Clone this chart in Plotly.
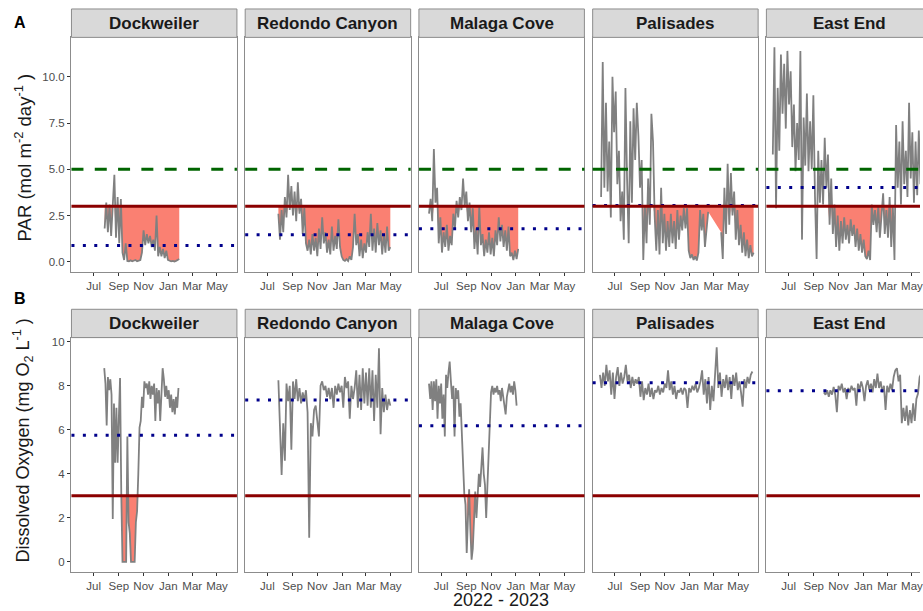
import plotly.graph_objects as go
import pandas as pd

# ---------------- data ----------------
sites = ["Dockweiler", "Redondo Canyon", "Malaga Cove", "Palisades", "East End"]
month_ticks = ["2022-07-01", "2022-09-01", "2022-11-01", "2023-01-01", "2023-03-01", "2023-05-01"]
month_labels = ["Jul", "Sep", "Nov", "Jan", "Mar", "May"]

# PAR (mol m-2 day-1), regular sampling from start date every N days
par_start = ["2022-07-28", "2022-07-28", "2022-06-01", "2022-05-28", "2022-05-23"]
par_step_days = [4, 4, 4, 4, 4]

par_dockweiler = [1.8, 3.2, 1.6, 3.1, 1.4, 2.9, 4.7, 1.3, 3.5, 1.0, 3.4, 0.5, 0.1, 1.0, 0.05,
                  0.03, 0.08, 0.03, 0.05, 0.1, 0.03, 0.05, 0.1, 0.5, 1.7, 0.9, 1.5, 1.0, 1.4, 0.8,
                  1.2, 0.6, 2.5, 0.3, 0.8, 0.3, 0.7, 0.2, 0.6, 0.1, 0.05, 0.03, 0.05, 0.02, 0.05,
                  0.08, 0.15]
par_redondo = [2.6, 1.2, 2.8, 1.6,
               3.5, 2.4, 4.7, 2.8, 4.1, 2.5, 3.8, 2.2, 4.3, 2.6, 3.4,
               1.5, 2.9, 1.0,
               0.6, 1.2, 0.4, 1.5, 0.6, 1.3, 0.3, 1.8, 0.7, 2.4, 1.0, 1.6, 0.5, 1.2, 0.4, 1.9,
               0.6, 1.4, 0.7, 2.3, 0.8,
               0.3, 0.1, 0.05, 0.15, 0.05, 0.3, 0.1, 0.8,
               2.6, 0.9, 1.5, 0.3, 1.2, 0.2, 1.0, 0.5, 1.6, 0.8, 2.6, 0.6, 1.8, 0.5, 2.1, 0.9,
               1.7, 0.4, 1.5, 0.5, 1.9, 0.6, 0.8]
par_malaga = [2.6, 3.4, 2.2, 6.1, 3.2, 4.0, 1.0, 2.4, 0.5, 1.6, 0.8, 2.0, 0.6, 1.4, 0.9, 2.6,
              1.8, 3.3, 2.4, 3.5, 2.8, 4.5, 3.0, 3.8, 2.2, 3.2, 1.6, 2.9, 0.7, 1.8, 0.4, 3.0,
              0.9, 1.5, 0.3, 1.2, 0.5, 1.6, 0.4, 1.3, 0.3, 1.7, 0.9, 2.4, 1.1, 2.0, 0.8, 1.7,
              0.6, 1.9, 0.3, 0.5, 0.1, 0.6, 0.15, 0.7]
par_palisades = [3.5, 10.8, 4.0, 8.6, 3.8, 6.5, 2.4, 10.0, 7.0, 9.2, 4.2, 6.0, 2.2, 3.8, 1.2,
                 9.4, 4.5, 1.0, 7.6, 3.2, 8.3, 5.5, 8.6, 6.8, 4.0, 5.5, 0.1, 3.0, 1.0, 4.5, 2.0,
                 8.0, 6.5, 2.5, 0.6, 2.8, 0.4, 4.0, 1.0, 2.6, 0.6, 2.2, 0.8, 2.6, 1.0, 2.2, 0.7,
                 2.8, 1.2, 2.5, 1.7, 2.9, 1.8, 2.9, 0.6, 0.2, 0.4, 0.1, 0.3, 0.07, 0.5, 2.8, 1.7,
                 2.6, 0.8, 1.6, 2.7, None, None, None, None, None, None, None, 1.6, 0.15, 4.0,
                 1.5, 5.3, 2.0, 4.8, 2.5, 3.8, 1.2, 2.8, 0.9, 2.0, 0.5, 1.6, 0.3, 1.2, 0.2, 0.9,
                 0.3, 0.5]
par_east_end = [5.8, 11.6, 2.9, 9.4, 6.0, 11.2, 8.0, 10.7, 7.2, 11.4, 8.5, 10.3, 6.2, 8.5, 4.9,
                7.5, 5.5, 11.4, 1.2, 7.8, 5.2, 9.1, 4.9, 7.6, 5.0, 9.0, 3.5, 0.15, 6.0, 3.2, 5.5,
                3.1, 6.7, 4.0, 5.8, 2.0, 4.5, 1.5, 3.1, 0.8, 2.5, 0.6, 2.2, 1.0, 2.4, 1.2, 2.0,
                1.0, 2.3, 1.4, 2.0, 0.8, 1.8, 0.6, 1.5, 0.5, 1.2, 0.3, 0.15, 0.6, 0.1, 3.1, 2.0,
                2.8, 1.6, 3.0, 1.3, 2.6, 3.7, 1.5, 2.8, 1.3, 3.5, 0.8, 3.0, 0.1, 7.4, 4.0, 6.5,
                3.1, 7.6, 4.2, 6.0, 3.5, 8.6, 4.5, 7.0, 3.2, 6.5, 3.6, 7.1, 4.2, 8.0, 5.0, 6.5]
par_values = [par_dockweiler, par_redondo, par_malaga, par_palisades, par_east_end]
par_site_mean = [0.88, 1.46, 1.79, 3.05, 4.01]
par_fill_windows = [
    [("2022-07-28", "2023-01-28")],
    [("2022-07-28", "2023-04-30")],
    [("2022-06-01", "2023-01-07")],
    [("2022-07-14", "2022-07-20"), ("2022-09-07", "2023-06-10")],
    [("2022-10-04", "2023-03-18")],
]
par_optimum = 5.0
par_threshold = 3.0

# Dissolved oxygen (mg O2 L-1)
do_start = ["2022-07-27", "2022-07-28", "2022-06-01", "2022-05-25", "2022-09-26"]
do_step_days = [3, 4, 3, 4, 4]

do_dockweiler = [8.8, 8.1, 6.2, 8.4, 7.8, 8.3, 7.6, 1.95, 7.2, 4.5, 7.0, 4.5, 6.5, 8.35, 3.1,
                 0.0, 0.0, 0.0, 0.0, 5.7, 1.8, 1.3, 0.0, 0.0, 0.0, 0.0, 1.8, 2.3, 4.0, 6.1, 6.4,
                 7.5, 7.0, 8.2, 7.9, 8.1, 7.6, 8.2, 7.4, 8.0, 7.6, 8.1, 6.4, 7.9, 7.2, 7.8, 6.4,
                 7.6, 8.8, 8.3, 7.5, 8.0, 7.4, 7.8, 7.0, 7.6, 6.8, 7.4, 6.7, 7.5, 7.0, 7.9]
do_redondo = [8.25, 5.5, 3.95, 6.3, 4.6, 8.1, 7.3, 8.0, 5.1, 8.2, 7.4, 8.3, 7.3, 7.9, 7.2, 7.7,
              7.3, 7.8, 6.8, 1.1, 6.3, 5.7, 6.9, 7.1, 6.2, 5.7, 8.0, 8.2, 7.8, 8.0, 7.5, 7.9,
              7.4, 7.9, 7.0, 8.0, 7.6, 8.1, 7.7, 8.0, 7.0, 8.4, 7.9, 8.2, 6.5, 8.0, 7.4, 7.9,
              8.7, 7.0, 8.5, 6.9, 8.8, 7.2, 8.6, 7.1, 8.8, 7.0, 8.7, 6.4, 8.5, 7.0, 9.7, 5.8,
              7.9, 6.8, 7.6, 6.9, 7.4, 7.1]
do_malaga = [8.1, 7.4, 8.2, 6.9, 8.2, 7.3, 8.3, 6.5, 8.0, 7.2, 8.1, 6.5, 7.6, 5.7, 8.5, 7.9,
             8.6, 9.1, 8.2, 7.4, 8.0, 5.7, 7.9, 7.4, 7.8, 6.6, 7.2, 5.8, 4.5, 3.1, 2.6, 0.4,
             2.0, 3.3, 1.5, 0.1, 0.6, 1.9, 3.2, 2.0, 3.3, 4.0, 3.4, 4.6, 5.2, 4.0, 3.5, 2.0,
             3.4, 4.9, 6.4, 7.7, 8.0, 7.6, 7.9, 7.7, 8.0, 7.6, 7.8, 7.3, 7.9, 7.5, 6.9, 6.7,
             7.5, 7.9, 8.1, 7.7, 8.0, 7.6, 8.2, 7.8, 7.1]
do_palisades = [8.5, 7.9, 8.6, 8.0, 8.95, 8.2, 8.7, 7.6, 8.6, 7.4, 8.4, 8.85, 8.0, 8.6, 8.1, 8.4,
                8.95, 8.2, 8.5, 7.9, 8.4, 8.0, 8.3, 8.1, 8.4, 7.5, 8.2, 7.35, 7.9, 7.6, 8.1, 7.5,
                7.9, 7.4, 7.8, 7.7, 8.0, 7.6, 7.9, 7.7, 8.1, 7.9, 8.7, 7.8, 8.2, 7.6, 8.0, 7.4,
                7.8, 7.7, 7.9, 7.6, 7.9, 7.8, 7.0, 7.9, 7.7, 8.0, 7.8, 8.1, 7.7, 7.9, 8.2, 8.7,
                7.6, 8.3, 7.2, 8.4, 6.9, 8.0, 7.3, 8.6, 9.75, 7.9, 8.6, 7.5, 8.3, 7.9, 8.5, 7.8,
                8.4, 7.4, 8.5, 8.0, 8.6, 7.8, 8.2, 7.7, 7.05, 8.3, 7.9, 8.4, 8.1, 8.5, 8.65]
do_east_end = [7.7, 7.6, 7.8, 7.5, 7.8, 7.6, 7.95, 7.6, 6.8, 8.0, 7.8, 8.1, 7.7, 7.9, 7.4, 7.9,
               7.7, 8.0, 7.8, 7.9, 7.1, 8.1, 7.8, 8.2, 7.9, 7.3, 8.0, 8.25, 7.8, 8.1, 7.7, 8.3,
               7.9, 8.55, 7.9, 8.2, 7.7, 8.0, 6.9, 8.0, 7.7, 8.1, 7.8, 8.4, 8.7, 8.8, 8.2, 8.5,
               6.3, 7.0, 6.4, 7.1, 6.2, 6.9, 6.3, 7.2, 6.4, 7.4, 7.65, 8.4, 8.55, 8.2, 8.6]
do_values = [do_dockweiler, do_redondo, do_malaga, do_palisades, do_east_end]
do_site_mean = [5.75, 7.35, 6.19, 8.14, 7.77]
do_fill_windows = [
    [("2022-09-06", "2022-10-22")],
    [],
    [("2022-08-31", "2022-09-20")],
    [],
    [],
]
do_threshold = 3.0

# ---------------- layout geometry (pixels) ----------------
W, H = 923, 611
panel_left = [71.7, 246.0, 420.3, 594.6, 768.9]
panel_w = 166.0
rows = [  # strip_top, plot_top, plot_bottom
    dict(strip_top=7.0, top=35.5, bottom=270.7, yrange=[-0.54, 12.13],
         tickvals=[0, 2.5, 5, 7.5, 10], ticktext=["0.0", "2.5", "5.0", "7.5", "10.0"]),
    dict(strip_top=308.3, top=336.7, bottom=571.7, yrange=[-0.453, 10.19],
         tickvals=[0, 2, 4, 6, 8, 10], ticktext=["0", "2", "4", "6", "8", "10"]),
]
px_per_day = 0.4069
jul_offset_px = 22.3
range_start = pd.Timestamp("2022-07-01") - pd.Timedelta(days=jul_offset_px / px_per_day)

FONT = "Liberation Sans, Arial, sans-serif"
GRAY_LINE = "#808080"
BORDER = "#8C8C8C"
FILL = "#FA8072"

def px_x(p):
    return p / W

def px_y(p):
    return 1 - p / H

fig = go.Figure()
layout = dict(width=W, height=H, margin=dict(l=0, r=0, t=0, b=0), autosize=False,
              paper_bgcolor="white", plot_bgcolor="white", showlegend=False,
              font=dict(family=FONT, color="#1A1A1A"))
shapes = []
annotations = []

def add_panel(r, c, start, step, vals, windows, thr, mean_val, optimum):
    idx = r * 5 + c + 1
    xn = "x" if idx == 1 else f"x{idx}"
    yn = "y" if idx == 1 else f"y{idx}"
    row = rows[r]
    left = panel_left[c]
    right = min(left + panel_w, W)
    rend = range_start + pd.Timedelta(days=(right - left) / px_per_day)
    last = c == 4
    layout["xaxis" if idx == 1 else f"xaxis{idx}"] = dict(
        domain=[px_x(left), px_x(right)], anchor=yn, type="date",
        range=[range_start.strftime("%Y-%m-%d %H:%M"), rend.strftime("%Y-%m-%d %H:%M")],
        tickmode="array", tickvals=month_ticks, ticktext=month_labels,
        ticks="outside", ticklen=3.5, tickwidth=1, tickcolor="#333333",
        tickfont=dict(size=11.5, color="#4D4D4D", family=FONT), ticklabeloverflow="allow",
        showline=True, linecolor=BORDER, linewidth=1, mirror=True,
        showgrid=False, zeroline=False, fixedrange=True)
    layout["yaxis" if idx == 1 else f"yaxis{idx}"] = dict(
        domain=[px_y(row["bottom"]), px_y(row["top"])], anchor=xn,
        range=row["yrange"], tickmode="array", tickvals=row["tickvals"], ticktext=row["ticktext"],
        ticks="outside" if c == 0 else "", ticklen=3.5, tickwidth=1, tickcolor="#333333",
        showticklabels=(c == 0), tickfont=dict(size=11.5, color="#4D4D4D", family=FONT),
        showline=True, linecolor=BORDER, linewidth=1, mirror=(not last),
        showgrid=False, zeroline=False, fixedrange=True)

    dates = pd.date_range(start, periods=len(vals), freq=f"{step}D")
    # low-value ribbon between series and threshold
    for ws, we in windows:
        ws, we = pd.Timestamp(ws), pd.Timestamp(we)
        pts = [(d, min(v, thr)) for d, v in zip(dates, vals) if v is not None and ws <= d <= we]
        if len(pts) < 2:
            continue
        xs = [p[0] for p in pts] + [pts[-1][0], pts[0][0]]
        ys = [p[1] for p in pts] + [thr, thr]
        fig.add_trace(go.Scatter(x=xs, y=ys, xaxis=xn, yaxis=yn, mode="lines",
                                 fill="toself", fillcolor=FILL, line=dict(width=0),
                                 hoverinfo="skip"))
    fig.add_trace(go.Scatter(x=dates, y=vals, xaxis=xn, yaxis=yn, mode="lines",
                             line=dict(color=GRAY_LINE, width=1.8), connectgaps=False,
                             hoverinfo="skip"))
    # reference lines
    def hline(y, color, width, dash):
        shapes.append(dict(type="line", xref=f"{xn} domain", yref=yn, x0=0, x1=1, y0=y, y1=y,
                           line=dict(color=color, width=width, dash=dash), layer="above"))
    hline(mean_val, "#00008B", 3, "3px,8.4px")
    if optimum is not None:
        hline(optimum, "#006400", 3, "12px,11.3px")
    hline(thr, "#8B0000", 3, "solid")

    # strip
    shapes.append(dict(type="rect", xref="paper", yref="paper",
                       x0=px_x(left), x1=px_x(left + panel_w), y0=px_y(row["top"]), y1=px_y(row["strip_top"]),
                       fillcolor="#D9D9D9", line=dict(color=BORDER, width=1), layer="above"))
    annotations.append(dict(xref="paper", yref="paper", x=px_x(left + panel_w / 2),
                            y=px_y((row["top"] + row["strip_top"]) / 2), text=f"<b>{sites[c]}</b>",
                            showarrow=False, xanchor="center", yanchor="middle",
                            font=dict(size=17, color="#1A1A1A", family=FONT)))

for c in range(5):
    add_panel(0, c, par_start[c], par_step_days[c], par_values[c], par_fill_windows[c],
              par_threshold, par_site_mean[c], par_optimum)
for c in range(5):
    add_panel(1, c, do_start[c], do_step_days[c], do_values[c], do_fill_windows[c],
              do_threshold, do_site_mean[c], None)

def label(x, y, text, size, angle=0, color="#1A1A1A", yanchor="middle"):
    annotations.append(dict(xref="paper", yref="paper", x=px_x(x), y=px_y(y), text=text,
                            showarrow=False, xanchor="center", yanchor=yanchor, textangle=angle,
                            borderpad=0, font=dict(size=size, color=color, family=FONT)))

label(20, 21, "<b>A</b>", 16, color="black")
label(20, 297, "<b>B</b>", 16, color="black")
label(24, 156, "PAR (mol m<sup>-2</sup> day<sup>-1</sup> )", 18.5, angle=-90)
label(23, 440, "Dissolved Oxygen (mg O<sub>2</sub> L<sup>-1</sup> )", 18, angle=-90)
label(503, 611, "2022 - 2023", 18, yanchor="bottom")

layout["shapes"] = shapes
layout["annotations"] = annotations
fig.update_layout(**layout)
fig.write_html("out.html")
